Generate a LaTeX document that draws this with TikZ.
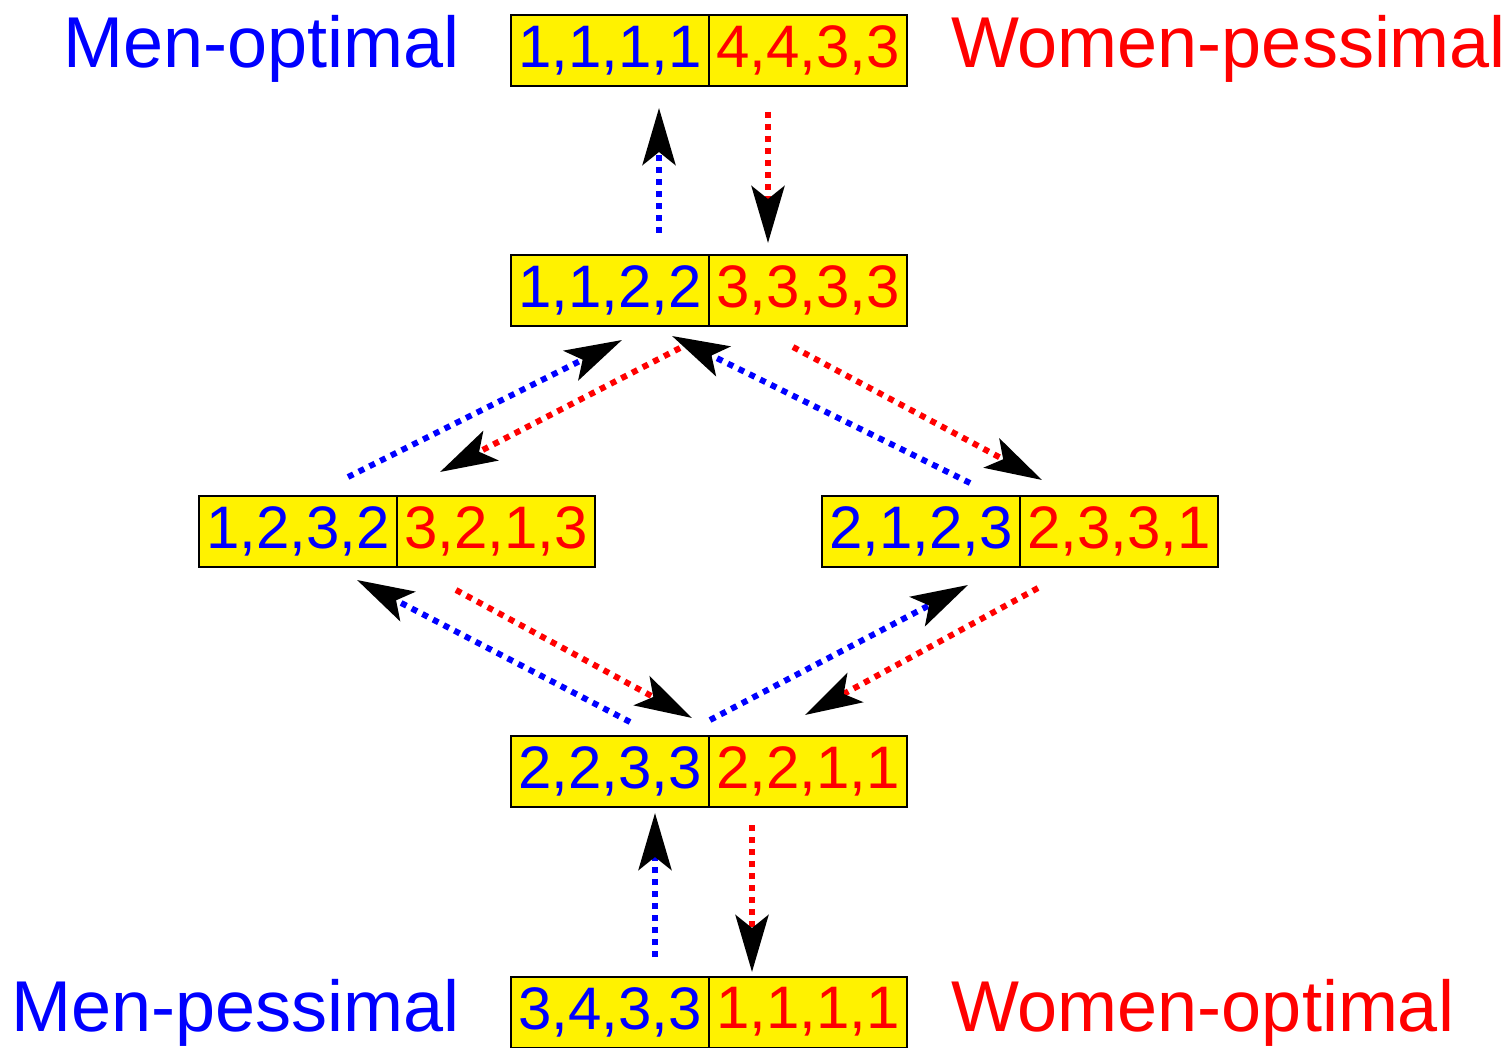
\documentclass[tikz,border=0pt]{standalone}
\usepackage{fontspec}
\setmainfont{Liberation Sans}
\usetikzlibrary{arrows.meta}
\begin{document}
\begin{tikzpicture}[x=1pt,y=-1pt]
\tikzset{hcase/.style={draw, line width=2pt, fill=yellow, text=blue, minimum width=198pt, minimum height=71pt, inner sep=0pt, outer sep=0pt, font=\fontsize{60}{62}\selectfont},
fcase/.style={hcase, text=red},
etiq/.style={font=\fontsize{72}{80}\selectfont, inner sep=0pt},
hfleche/.style={draw=blue, line width=6pt, dash pattern=on 6pt off 6pt, -{Stealth[black, length=57pt, width=33pt, inset=13pt]}},
ffleche/.style={hfleche, draw=red}}
\useasboundingbox (0,0) rectangle (1511,1048);
\node[hcase] (H1) at (610,50.5) {1,1,1,1};
\node[fcase] (F1) at (808,50.5) {4,4,3,3};
\node[hcase] (H2) at (610,290.5) {1,1,2,2};
\node[fcase] (F2) at (808,290.5) {3,3,3,3};
\node[hcase] (H3) at (298,531) {1,2,3,2};
\node[fcase] (F3) at (496,531) {3,2,1,3};
\node[hcase] (H4) at (921,531) {2,1,2,3};
\node[fcase] (F4) at (1119,531) {2,3,3,1};
\node[hcase] (H5) at (610,771.5) {2,2,3,3};
\node[fcase] (F5) at (808,771.5) {2,2,1,1};
\node[hcase] (H6) at (610,1012) {3,4,3,3};
\node[fcase] (F6) at (808,1012) {1,1,1,1};
\node[etiq, text=blue, anchor=base east] (Hopt) at (460,68) {Men-optimal};
\node[etiq, text=red, anchor=base west] (Fpes) at (951,68) {Women-pessimal};
\node[etiq, text=blue, anchor=base east] (Hpes) at (460,1031) {Men-pessimal};
\node[etiq, text=red, anchor=base west] (Fopt) at (951,1031) {Women-optimal};
\draw[hfleche] ([shift={(49,-22)}]H2.north) -- ([shift={(49,22)}]H1.south);
\draw[ffleche] ([shift={(-40,26)}]F1.south) -- ([shift={(-40,-12)}]F2.north);
\draw[hfleche] ([shift={(50,-18.5)}]H3.north) -- ([shift={(12,14)}]H2.south);
\draw[ffleche] ([shift={(-128,22)}]F2.south) -- ([shift={(-56,-23.5)}]F3.north);
\draw[hfleche] ([shift={(49,-12.5)}]H4.north) -- ([shift={(62,10)}]H2.south);
\draw[ffleche] ([shift={(-15,21)}]F2.south) -- ([shift={(-77,-15.5)}]F4.north);
\draw[hfleche] ([shift={(20,-14)}]H5.north) -- ([shift={(59,13.5)}]H3.south);
\draw[ffleche] ([shift={(-40,23.5)}]F3.south) -- ([shift={(-116,-18)}]F5.north);
\draw[hfleche] ([shift={(100,-16)}]H5.north) -- ([shift={(47,18.5)}]H4.south);
\draw[ffleche] ([shift={(-81,21.5)}]F4.south) -- ([shift={(-3,-21)}]F5.north);
\draw[hfleche] ([shift={(45,-19.5)}]H6.north) -- ([shift={(45,6)}]H5.south);
\draw[ffleche] ([shift={(-56,18)}]F5.south) -- ([shift={(-56,-4.5)}]F6.north);
\end{tikzpicture}
\end{document}
